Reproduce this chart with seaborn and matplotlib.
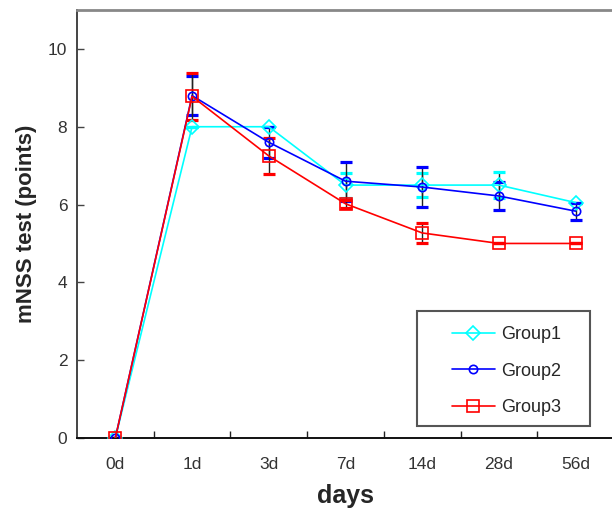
import numpy as np
import pandas as pd
import matplotlib
matplotlib.use("Agg")
import matplotlib.pyplot as plt
from matplotlib.patches import Rectangle
import seaborn as sns

# data
days = ["0d", "1d", "3d", "7d", "14d", "28d", "56d"]
group1 = [0.0, 8.0, 8.0, 6.5, 6.5, 6.5, 6.05]
group1_err = [0.0, 0.0, 0.0, 0.32, 0.31, 0.33, 0.0]
group2 = [0.0, 8.8, 7.6, 6.6, 6.45, 6.22, 5.83]
group2_err = [0.0, 0.5, 0.4, 0.5, 0.52, 0.37, 0.22]
group3 = [0.0, 8.78, 7.25, 6.02, 5.27, 5.0, 5.0]
group3_err = [0.0, 0.6, 0.47, 0.1, 0.26, 0.0, 0.0]

groups = ["Group1", "Group2", "Group3"]
colors = {"Group1": "#00FFFF", "Group2": "#0000FF", "Group3": "#FF0000"}
markers = {"Group1": "D", "Group2": "o", "Group3": "s"}
msizes = {"Group1": 7.0, "Group2": 6.0, "Group3": 9.0}

pos = np.arange(len(days))
df = pd.DataFrame({
    "pos": np.tile(pos, 3),
    "score": group1 + group2 + group3,
    "err": group1_err + group2_err + group3_err,
    "group": np.repeat(groups, len(days)),
})

sns.set_theme(style="white")
plt.rcParams["font.family"] = ["Liberation Sans", "DejaVu Sans"]

fig = plt.figure(figsize=(6.12, 5.2), dpi=100)
ax = fig.add_axes([77 / 612, 82 / 520, 537 / 612, 428 / 520])

for g in groups:
    sub = df[df["group"] == g]
    c = colors[g]
    sns.lineplot(data=sub, x="pos", y="score", ax=ax, color=c, marker=markers[g],
                 markersize=msizes[g], mfc="none", mec=c, mew=1.2, lw=1.2,
                 label=g, zorder=3)
    # black error lines with coloured caps
    _, caps, _ = ax.errorbar(sub["pos"], sub["score"], yerr=sub["err"], fmt="none",
                             ecolor="#222222", elinewidth=1.0, capsize=4.5,
                             capthick=2.3, zorder=2)
    for cap in caps:
        cap.set_markeredgecolor(c)

ax.set_xlim(-0.5, len(days) - 0.5)
ax.set_ylim(0, 11)
ax.set_yticks([0, 2, 4, 6, 8, 10])
ax.set_xticks(pos[:-1] + 0.5)
ax.set_xticklabels([])
ax.set_xticks(pos, minor=True)
ax.set_xticklabels(days, minor=True)
ax.tick_params(axis="x", which="major", direction="in", length=5, width=1,
               color="#222222", bottom=True)
ax.tick_params(axis="x", which="minor", length=0, pad=14, labelsize=12.5,
               labelcolor="#333333", bottom=True)
ax.tick_params(axis="y", direction="in", length=5, width=1, color="#444444",
               pad=7, labelsize=12.5, labelcolor="#333333", left=True)

ax.set_xlabel("days", fontsize=18, fontweight="bold", labelpad=8)
ax.set_ylabel("mNSS test (points)", fontsize=16, fontweight="bold", labelpad=8)

ax.spines["left"].set_color("#444444")
ax.spines["left"].set_linewidth(1.4)
ax.spines["bottom"].set_color("#111111")
ax.spines["bottom"].set_linewidth(1.4)
ax.spines["top"].set_color("#888888")
ax.spines["top"].set_linewidth(2.0)
ax.spines["right"].set_visible(False)

leg = ax.legend(loc="center", bbox_to_anchor=(0.80, 0.156), frameon=False,
                fontsize=13, handlelength=2.4, handletextpad=0.35, labelspacing=1.08)
ax.add_patch(Rectangle((0.633, 0.028), 0.322, 0.269, transform=ax.transAxes,
                       fill=False, ec="#555555", lw=1.5, zorder=5))

fig.savefig("out.png", dpi=100)
